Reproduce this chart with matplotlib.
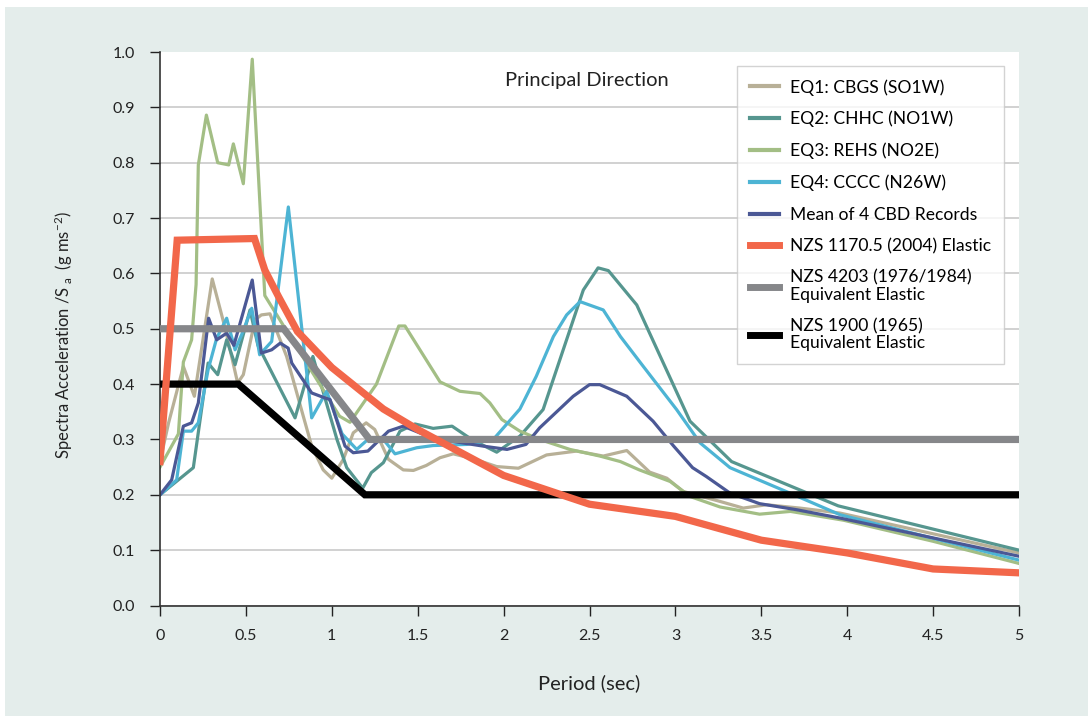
import matplotlib
matplotlib.use("Agg")
import matplotlib.pyplot as plt
from matplotlib.patches import Rectangle

plt.rcParams["font.family"] = ["Lato", "DejaVu Sans"]
plt.rcParams["mathtext.fontset"] = "custom"
plt.rcParams["mathtext.rm"] = "Lato"
plt.rcParams["mathtext.it"] = "Lato:italic"

# EQ1: CBGS (SO1W)
eq1_t = [0, 0.05, 0.136, 0.2, 0.304, 0.38, 0.452, 0.485, 0.553, 0.59, 0.64, 0.737, 0.834,
         0.883, 0.95, 1.0, 1.067, 1.125, 1.2, 1.25, 1.33, 1.416, 1.475, 1.55, 1.63, 1.707,
         1.824, 1.96, 2.086, 2.25, 2.425, 2.58, 2.717, 2.85, 2.95, 3.046, 3.26, 3.395,
         3.53, 3.725, 3.958, 5.0]
eq1_sa = [0.26, 0.33, 0.432, 0.378, 0.59, 0.50, 0.402, 0.417, 0.516, 0.525, 0.527, 0.45, 0.342,
          0.288, 0.245, 0.23, 0.264, 0.312, 0.33, 0.318, 0.264, 0.245, 0.244, 0.253, 0.267, 0.274,
          0.265, 0.251, 0.248, 0.272, 0.279, 0.27, 0.28, 0.241, 0.23, 0.206, 0.188, 0.176,
          0.182, 0.176, 0.167, 0.095]

# EQ2: CHHC (NO1W)
eq2_t = [0, 0.194, 0.28, 0.336, 0.388, 0.437, 0.524, 0.57, 0.786, 0.89, 1.03, 1.087, 1.18,
         1.23, 1.3, 1.397, 1.484, 1.59, 1.7, 1.814, 1.96, 2.095, 2.23, 2.464, 2.55, 2.61,
         2.775, 2.85, 3.085, 3.327, 3.948, 5.0]
eq2_sa = [0.2, 0.249, 0.438, 0.417, 0.48, 0.435, 0.534, 0.47, 0.339, 0.45, 0.30, 0.249, 0.212,
          0.24, 0.258, 0.315, 0.328, 0.32, 0.324, 0.30, 0.277, 0.306, 0.354, 0.57, 0.61, 0.605,
          0.543, 0.492, 0.333, 0.26, 0.18, 0.10]

# EQ3: REHS (NO2E)
eq3_t = [0, 0.107, 0.136, 0.184, 0.21, 0.223, 0.27, 0.336, 0.40, 0.427, 0.485, 0.537, 0.61,
         1.045, 1.106, 1.26, 1.39, 1.426, 1.63, 1.746, 1.863, 1.92, 1.99, 2.095, 2.21, 2.386,
         2.56, 2.68, 2.79, 2.97, 3.085, 3.26, 3.49, 3.67, 3.98, 4.5, 5.0]
eq3_sa = [0.25, 0.31, 0.44, 0.48, 0.58, 0.796, 0.886, 0.80, 0.796, 0.834, 0.762, 0.987, 0.56,
          0.342, 0.331, 0.40, 0.505, 0.505, 0.404, 0.387, 0.383, 0.366, 0.336, 0.315, 0.30, 0.282,
          0.27, 0.26, 0.245, 0.224, 0.197, 0.178, 0.165, 0.17, 0.154, 0.116, 0.076]

# EQ4: CCCC (N26W)
eq4_t = [0, 0.097, 0.136, 0.184, 0.223, 0.28, 0.33, 0.388, 0.437, 0.475, 0.534, 0.58, 0.65,
         0.747, 0.883, 0.97, 1.06, 1.145, 1.21, 1.3, 1.368, 1.494, 1.59, 1.785, 1.94, 2.095,
         2.19, 2.29, 2.367, 2.445, 2.58, 2.68, 2.813, 3.007, 3.143, 3.318, 3.667, 3.958, 5.0]
eq4_sa = [0.2, 0.227, 0.315, 0.315, 0.33, 0.426, 0.483, 0.519, 0.462, 0.489, 0.537, 0.453, 0.477,
          0.72, 0.339, 0.387, 0.31, 0.282, 0.30, 0.30, 0.274, 0.285, 0.289, 0.291, 0.30, 0.355,
          0.414, 0.486, 0.525, 0.549, 0.534, 0.486, 0.432, 0.354, 0.294, 0.249, 0.203, 0.164, 0.082]

# Mean of 4 CBD records
mean_t = [0, 0.068, 0.136, 0.184, 0.223, 0.283, 0.33, 0.388, 0.43, 0.537, 0.59, 0.65, 0.70,
          0.746, 0.767, 0.883, 0.96, 0.99, 1.077, 1.125, 1.21, 1.33, 1.416, 1.59, 1.88, 2.02,
          2.13, 2.21, 2.405, 2.5, 2.56, 2.717, 2.87, 2.99, 3.1, 3.18, 3.318, 3.49, 3.706,
          3.958, 5.0]
mean_sa = [0.2, 0.227, 0.324, 0.33, 0.366, 0.519, 0.48, 0.492, 0.47, 0.588, 0.456, 0.462, 0.474,
           0.465, 0.438, 0.384, 0.375, 0.372, 0.288, 0.276, 0.279, 0.315, 0.324, 0.302, 0.288, 0.282,
           0.291, 0.321, 0.378, 0.399, 0.399, 0.378, 0.333, 0.288, 0.249, 0.233, 0.203, 0.184, 0.173,
           0.158, 0.089]

# design spectra
nzs1170_t = [0, 0.1, 0.55, 0.61, 0.69, 0.8, 0.92, 1.0, 1.3, 1.5, 2.0, 2.5, 3.0, 3.5, 4.0, 4.5, 5.0]
nzs1170_sa = [0.26, 0.66, 0.663, 0.606, 0.558, 0.495, 0.456, 0.43, 0.355, 0.318, 0.235, 0.183,
              0.161, 0.118, 0.095, 0.066, 0.059]
nzs4203_t = [0, 0.72, 1.22, 5.0]
nzs4203_sa = [0.5, 0.5, 0.30, 0.30]
nzs1900_t = [0, 0.456, 1.193, 5.0]
nzs1900_sa = [0.4, 0.4, 0.2, 0.2]

x_ticks = [0, 0.5, 1, 1.5, 2, 2.5, 3, 3.5, 4, 4.5, 5]
x_labels = ["0", "0.5", "1", "1.5", "2", "2.5", "3", "3.5", "4", "4.5", "5"]
y_ticks = [0.0, 0.1, 0.2, 0.3, 0.4, 0.5, 0.6, 0.7, 0.8, 0.9, 1.0]

W, H = 1088, 716
fig = plt.figure(figsize=(W / 100, H / 100), dpi=100)
fig.patch.set_facecolor("white")
fig.patches.append(Rectangle((5 / W, 0), 1, (H - 7) / H, transform=fig.transFigure,
                             facecolor="#e4edeb", edgecolor="none", zorder=-10))

ax = fig.add_axes([160 / W, (H - 605.5) / H, 859 / W, 553.5 / H])
ax.set_facecolor("white")

thin = 2.3
ax.plot(eq1_t, eq1_sa, color="#b8b097", lw=thin, zorder=2, label="EQ1: CBGS (SO1W)")
ax.plot(eq2_t, eq2_sa, color="#56968f", lw=thin, zorder=2, label="EQ2: CHHC (NO1W)")
ax.plot(eq3_t, eq3_sa, color="#a3be85", lw=thin, zorder=2, label="EQ3: REHS (NO2E)")
ax.plot(eq4_t, eq4_sa, color="#4db4d4", lw=thin, zorder=2, label="EQ4: CCCC (N26W)")
ax.plot(mean_t, mean_sa, color="#4b5895", lw=thin, zorder=2.5, label="Mean of 4 CBD Records")
ax.plot(nzs1170_t, nzs1170_sa, color="#f2674a", lw=5.2, zorder=4,
        label="NZS 1170.5 (2004) Elastic", solid_joinstyle="miter")
ax.plot(nzs4203_t, nzs4203_sa, color="#86878a", lw=5.2, zorder=3,
        label="NZS 4203 (1976/1984)\nEquivalent Elastic", solid_joinstyle="miter")
ax.plot(nzs1900_t, nzs1900_sa, color="black", lw=5.2, zorder=3,
        label="NZS 1900 (1965)\nEquivalent Elastic", solid_joinstyle="miter")

ax.set_xlim(0, 5)
ax.set_ylim(0, 1.0)
ax.set_xticks(x_ticks)
ax.set_xticklabels(x_labels)
ax.set_yticks(y_ticks)
ax.set_yticklabels([f"{v:.1f}" for v in y_ticks])
ax.tick_params(axis="both", labelsize=11.5, colors="#222222", length=7, width=1, direction="out")
ax.tick_params(axis="y", pad=11)
ax.tick_params(axis="x", pad=10)

ax.yaxis.grid(True, color="#c9c9c9", lw=1.2)
ax.get_ygridlines()[-1].set_visible(False)
ax.set_axisbelow(True)
for side in ["top", "right"]:
    ax.spines[side].set_visible(False)
for side in ["left", "bottom"]:
    ax.spines[side].set_color("#333333")
    ax.spines[side].set_linewidth(1.2)

ax.set_xlabel("Period (sec)", fontsize=14.5, color="#222222")
ax.xaxis.set_label_coords(0.5, -(683 - 605.5) / 553.5)
ax.xaxis.label.set_va("center")
ax.set_ylabel(r"Spectra Acceleration /S$_{\ \mathrm{a}}$  (g ms$^{\mathrm{-2}}$)",
              fontsize=12, color="#222222")
ax.yaxis.set_label_coords(-(160 - 64) / 859, 0.489)
ax.yaxis.label.set_va("center")

ax.text(0.497, 0.949, "Principal Direction", transform=ax.transAxes, ha="center",
        va="center", fontsize=14.5, color="#222222")

leg = ax.legend(loc="upper right", bbox_to_anchor=(0.9825, 0.975), borderaxespad=0,
                fontsize=12.6, frameon=True, fancybox=False, edgecolor="#c8c8c8",
                handlelength=1.65, handletextpad=0.62, labelspacing=0.88, borderpad=0.75)
leg.get_frame().set_linewidth(1.0)
for txt in leg.get_texts():
    txt.set_linespacing(1.05)
for line in leg.get_lines():
    if line.get_linewidth() < 3:
        line.set_linewidth(3.0)
    else:
        line.set_linewidth(5.0)

fig.savefig("out.png", dpi=100)
